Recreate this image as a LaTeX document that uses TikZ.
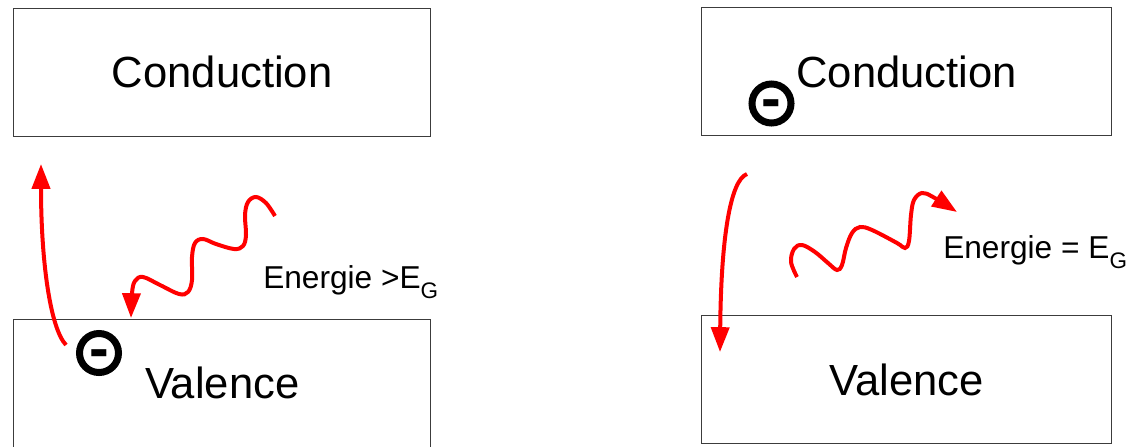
\documentclass[tikz,border=0pt]{standalone}
\usepackage{fontspec}
\setsansfont{Liberation Sans}
\usetikzlibrary{arrows.meta,positioning}
\definecolor{bandline}{RGB}{60,60,60}
\definecolor{photon}{RGB}{255,0,0}
\newcommand{\lowsub}[1]{\raisebox{-0.34em}{\fontsize{16pt}{16pt}\selectfont #1}}

\begin{document}
\begin{tikzpicture}[
  x=0.025cm, y=-0.025cm,
  font=\sffamily,
  >={Triangle[length=0.62cm, width=0.45cm]},
  band/.style={draw=bandline, line width=0.7pt, minimum height=3.2cm, inner sep=0pt,
    text height=22.2pt, text depth=0pt, font=\sffamily\fontsize{31pt}{36pt}\selectfont},
  electron/.style={circle, draw=black, line width=0.175cm, minimum size=0.975cm, inner sep=0pt,
    text height=0pt, text depth=0pt, font=\sffamily\bfseries\fontsize{42pt}{42pt}\selectfont},
  energy/.style={anchor=base west, inner sep=0pt, font=\sffamily\fontsize{22.5pt}{26pt}\selectfont},
  jump/.style={->, draw=photon, line width=0.1cm},
  wave/.style={->, draw=photon, line width=0.1cm}
]
\useasboundingbox (0,0) rectangle (1131,447);

\node[band, minimum width=10.425cm] (condL) at (222.2,72.3) {Conduction};
\node[band, minimum width=10.425cm, below=4.55cm of condL] (valL) {Valence};
\node[band, minimum width=10.25cm] (condR) at (906.7,71.8) {Conduction};
\node[band, minimum width=10.25cm, below=4.475cm of condR] (valR) {Valence};

\node[electron] (eL) at (99,353) {\raisebox{-11pt}{-}};
\node[electron] (eR) at (771.5,103.5) {\raisebox{-11pt}{-}};

\node[energy] (gapL) at (263,288) {Energie >E\lowsub{G}};
\node[energy] (gapR) at (943,258) {Energie = E\lowsub{G}};

\coordinate (upS) at (66,345);
\coordinate (upT) at (41,164);
\coordinate (downS) at (747,174);
\coordinate (downT) at (720,352);

\draw[jump] (upS) .. controls (50,328) and (41,260) .. (upT);
\draw[jump] (downS) .. controls (730,180) and (721,240) .. (downT);

\draw[wave] plot[smooth, tension=0.6] coordinates {(275,216) (266,203) (256,197) (248,202) (245,215) (246,235) (243,246) (234,249) (216,244) (203,239) (195,243) (192,257) (192,280) (188,292) (179,294) (160,285) (143,277) (135,281) (132,293) (131,318)};
\draw[wave] plot[smooth, tension=0.6] coordinates {(797,277) (791,262) (794,249) (802,245) (815,252) (828,263) (837,270) (842,265) (846,248) (852,233) (860,227) (872,230) (897,243) (905,248) (909,241) (911,215) (914,200) (922,193) (933,197) (957,212)};
\end{tikzpicture}
\end{document}
